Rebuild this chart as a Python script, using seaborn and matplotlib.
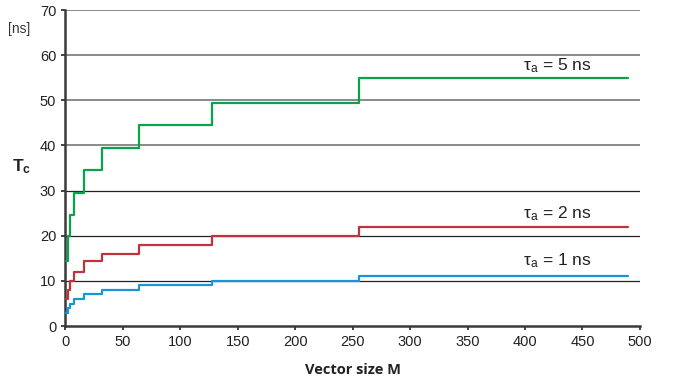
import numpy as np
import pandas as pd
import matplotlib
matplotlib.use("Agg")
import matplotlib.pyplot as plt
import seaborn as sns

# Vector sizes where the steps occur (last value = end of line)
vector_size = [1, 2, 4, 8, 16, 32, 64, 128, 256, 490]

# Tc, in ns
tc_1ns = [3, 4, 5, 6, 7, 8, 9, 10, 11, 11]
tc_2ns = [6, 8, 10, 12, 14.5, 16, 18, 20, 22, 22]
tc_5ns = [14.5, 20, 24.5, 29.5, 34.5, 39.5, 44.5, 49.5, 55, 55]

series_names = ["1 ns", "2 ns", "5 ns"]
series_colors = {"1 ns": "#1996d8", "2 ns": "#c0333d", "5 ns": "#09a34b"}
label_pos = {"1 ns": (428, 14.5), "2 ns": (428, 24.8), "5 ns": (428, 57.6)}

df = pd.concat([
    pd.DataFrame({"M": vector_size, "Tc": vals, "tau": name})
    for name, vals in zip(series_names, [tc_1ns, tc_2ns, tc_5ns])
], ignore_index=True)

sns.set_theme(style="white")
plt.rcParams["font.family"] = ["Liberation Sans", "DejaVu Sans"]

fig = plt.figure(figsize=(6.8, 3.85), dpi=100)
ax = fig.add_axes([0.096, 0.153, 0.845, 0.821])

# Horizontal grid: black for lower lines, gray for the upper ones
for y in [10, 20, 30]:
    ax.axhline(y, color="#222222", lw=0.9, zorder=0)
for y in [40, 50, 60, 70]:
    ax.axhline(y, color="#8a8a8a", lw=1.4, zorder=0)

sns.lineplot(data=df, x="M", y="Tc", hue="tau", palette=series_colors,
             drawstyle="steps-post", linewidth=1.6, legend=False, ax=ax,
             zorder=3)

for name in series_names:
    x, y = label_pos[name]
    ax.text(x, y, r"$\mathregular{\tau_a}$ = " + name, ha="center", va="center",
            fontsize=12.5, color="#222222")

ax.set_xlim(0, 500)
ax.set_ylim(0, 70)
ax.set_xticks(np.arange(0, 501, 50))
ax.set_yticks(np.arange(0, 71, 10))
ax.tick_params(axis="both", labelsize=10.5, colors="#222222", length=3,
               width=1.2, direction="out", bottom=True, left=True)
for side in ["top", "right"]:
    ax.spines[side].set_visible(False)
for side in ["left", "bottom"]:
    ax.spines[side].set_color("#3a3a3a")
    ax.spines[side].set_linewidth(1.8)

ax.set_xlabel("Vector size M", fontsize=10.5, fontweight="bold",
              family=["Open Sans", "DejaVu Sans"], color="#222222", labelpad=10)
ax.set_ylabel("")
fig.text(0.018, 0.555, r"$\mathregular{T_c}$", fontsize=12.5, fontweight="bold",
         color="#222222")
fig.text(0.012, 0.915, "[ns]", fontsize=10, color="#333333")

fig.savefig("out.png", dpi=100)
